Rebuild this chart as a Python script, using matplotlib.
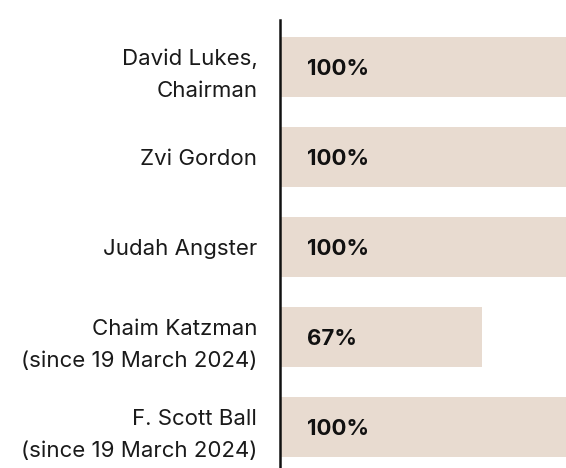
import matplotlib
matplotlib.use('Agg')
import matplotlib.pyplot as plt

# Datos
directores = ['David Lukes,\nChairman', 'Zvi Gordon', 'Judah Angster',
              'Chaim Katzman\n(since 19 March 2024)',
              'F. Scott Ball\n(since 19 March 2024)']
asistencia = [100, 100, 100, 67, 100]
etiquetas = ['100%', '100%', '100%', '67%', '100%']

plt.rcParams['font.family'] = ['Inter', 'DejaVu Sans']

fig = plt.figure(figsize=(5.66, 4.68), dpi=100)
ax = fig.add_axes([279.5 / 566, 0, 1 - 279.5 / 566, 448 / 468])

pos = list(range(len(directores)))
ax.barh(pos, asistencia, height=0.67, color='#E8DBD0', zorder=1)

for i, txt in enumerate(etiquetas):
    ax.annotate(txt, xy=(0, i), xytext=(27, -2), textcoords='offset pixels',
                ha='left', va='center', fontsize=16, fontweight='bold',
                color='#111111')

ax.set_xlim(0, 95)
ax.set_ylim(4.456, -0.522)

ax.set_yticks(pos)
ax.set_yticklabels(directores, fontsize=16, color='#1a1a1a',
                   linespacing=1.75, ha='right')
ax.tick_params(axis='y', length=0, pad=16)
ax.set_xticks([])

for s in ['top', 'right', 'bottom']:
    ax.spines[s].set_visible(False)
ax.spines['left'].set_linewidth(1.8)
ax.spines['left'].set_color('#111111')
ax.spines['left'].set_zorder(3)

fig.savefig('out.png', dpi=100)
